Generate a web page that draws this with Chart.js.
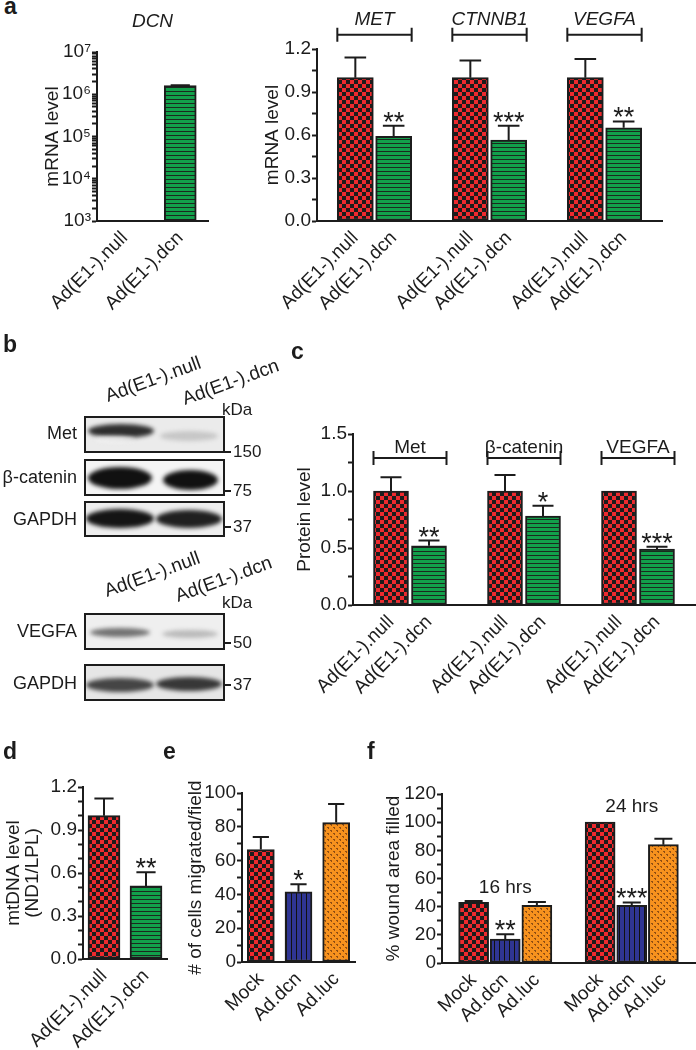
<!DOCTYPE html>
<html>
<head>
<meta charset="utf-8">
<script src="https://cdn.jsdelivr.net/npm/chart.js@4.4.1/dist/chart.umd.min.js"></script>
<style>
  body { margin: 0; background: #fff; }
  #fig { position: relative; width: 696px; height: 1050px; overflow: hidden;
         font-family: 'Liberation Sans', Arial, sans-serif; color: #1c1c1c; }
  #fig canvas { position: absolute; }
  .txt { position: absolute; white-space: nowrap; font-size: 18px; line-height: 18px; }
  .small { font-size: 17px; line-height: 17px; }
  .panel { position: absolute; font-weight: bold; font-size: 23px; line-height: 23px; }
  .lane { position: absolute; white-space: nowrap; font-size: 19px; line-height: 19px;
          transform-origin: 0 16px; transform: rotate(-20deg); }
</style>
</head>
<body>
<div id="fig">
  <canvas id="blots"></canvas>
  <canvas id="chartA1"></canvas>
  <canvas id="chartA2"></canvas>
  <canvas id="chartC"></canvas>
  <canvas id="chartD"></canvas>
  <canvas id="chartE"></canvas>
  <canvas id="chartF"></canvas>

  <div class="panel" style="left:4px;top:-5px">a</div>
  <div class="panel" style="left:3px;top:333px">b</div>
  <div class="panel" style="left:291px;top:340px">c</div>
  <div class="panel" style="left:3px;top:740px">d</div>
  <div class="panel" style="left:163px;top:740px">e</div>
  <div class="panel" style="left:367px;top:740px">f</div>

  <div class="lane" style="left:108px;top:386px">Ad(E1-).null</div>
  <div class="lane" style="left:185px;top:389px">Ad(E1-).dcn</div>
  <div class="lane" style="left:107px;top:581px">Ad(E1-).null</div>
  <div class="lane" style="left:178px;top:586px">Ad(E1-).dcn</div>

  <div class="txt" style="right:619px;top:424px">Met</div>
  <div class="txt" style="right:619px;top:468px">β-catenin</div>
  <div class="txt" style="right:619px;top:510px">GAPDH</div>
  <div class="txt" style="right:619px;top:622px">VEGFA</div>
  <div class="txt" style="right:619px;top:674px">GAPDH</div>

  <div class="txt small" style="left:222px;top:401px">kDa</div>
  <div class="txt small" style="left:233px;top:443px">150</div>
  <div class="txt small" style="left:233px;top:482px">75</div>
  <div class="txt small" style="left:233px;top:518px">37</div>
  <div class="txt small" style="left:222px;top:594px">kDa</div>
  <div class="txt small" style="left:233px;top:634px">50</div>
  <div class="txt small" style="left:233px;top:676px">37</div>
</div>

<script>
// ---- data ----
const dcnLabels = ['Ad(E1-).null', 'Ad(E1-).dcn'];
const dcnMrna = [1, 1.6e6];
const dcnMrnaSem = [null, 0.04e6];

const mrnaGenes = ['MET', 'CTNNB1', 'VEGFA'];
const mrnaLabels = ['', 'Ad(E1-).null', 'Ad(E1-).dcn', '', 'Ad(E1-).null', 'Ad(E1-).dcn', '', 'Ad(E1-).null', 'Ad(E1-).dcn', ''];
const mrnaValues = [null, 1.0, 0.59, null, 1.0, 0.565, null, 1.0, 0.65, null];
const mrnaSem = [null, 0.14, 0.075, null, 0.12, 0.10, null, 0.13, 0.045, null];
const mrnaStars = ['', '', '**', '', '', '***', '', '', '**', ''];

const proteinNames = ['Met', 'β-catenin', 'VEGFA'];
const proteinLabels = ['', 'Ad(E1-).null', 'Ad(E1-).dcn', '', 'Ad(E1-).null', 'Ad(E1-).dcn', '', 'Ad(E1-).null', 'Ad(E1-).dcn', ''];
const proteinValues = [null, 1.0, 0.52, null, 1.0, 0.78, null, 1.0, 0.49, null];
const proteinSem = [null, 0.12, 0.045, null, 0.14, 0.09, null, 0, 0.02, null];
const proteinStars = ['', '', '**', '', '', '*', '', '', '***', ''];

const mtdnaLabels = ['Ad(E1-).null', 'Ad(E1-).dcn'];
const mtdnaValues = [1.0, 0.51];
const mtdnaSem = [0.12, 0.095];
const mtdnaStars = ['', '**'];

const migrationLabels = ['Mock', 'Ad.dcn', 'Ad.luc'];
const migrationValues = [66.5, 41.5, 82.5];
const migrationSem = [7.5, 4.5, 11];
const migrationStars = ['', '*', ''];

const woundTimes = ['16 hrs', '24 hrs'];
const woundTimeAt = [50, 107];
const woundLabels = ['', 'Mock', 'Ad.dcn', 'Ad.luc', '', 'Mock', 'Ad.dcn', 'Ad.luc', ''];
const woundValues = [null, 43, 17, 41, null, 100, 41, 84, null];
const woundSem = [null, 1, 3.5, 2.4, null, 0, 2, 4.2, null];
const woundStars = ['', '', '**', '', '', '', '***', '', ''];

// ---- look ----
const INK = '#1c1c1c';
const RED = '#ee2a2e';
const GREEN = '#12a04b';
const BLUE = '#2f3593';
const ORANGE = '#f7921e';
const FONT = "'Liberation Sans', Arial, sans-serif";
const TXT = 19;
Chart.defaults.font.family = FONT;
Chart.defaults.color = INK;

function makeTile(w, h, draw) {
    const c = document.createElement('canvas');
    c.width = w; c.height = h;
    draw(c.getContext('2d'));
    return c;
}
const tileCtx = document.createElement('canvas').getContext('2d');
const patterns = {
    red: tileCtx.createPattern(makeTile(8, 8, g => {
        g.fillStyle = RED; g.fillRect(0, 0, 8, 8);
        g.fillStyle = INK; g.fillRect(0, 0, 4, 4); g.fillRect(4, 4, 4, 4);
    }), 'repeat'),
    green: tileCtx.createPattern(makeTile(4, 4, g => {
        g.fillStyle = GREEN; g.fillRect(0, 0, 4, 4);
        g.fillStyle = '#1b2a1f'; g.fillRect(0, 3, 4, 1);
    }), 'repeat'),
    blue: tileCtx.createPattern(makeTile(5, 4, g => {
        g.fillStyle = BLUE; g.fillRect(0, 0, 5, 4);
        g.fillStyle = '#111'; g.fillRect(4, 0, 1, 4);
    }), 'repeat'),
    orange: tileCtx.createPattern(makeTile(6, 6, g => {
        g.fillStyle = ORANGE; g.fillRect(0, 0, 6, 6);
        g.fillStyle = 'rgba(110,55,15,0.75)';
        g.fillRect(1, 1, 2, 1); g.fillRect(2, 2, 1, 1);
        g.fillRect(4, 4, 2, 1); g.fillRect(5, 5, 1, 1);
    }), 'repeat')
};
function fillFor(label) {
    if (/null$|^Mock$/.test(label)) return patterns.red;
    if (label === 'Ad.dcn') return patterns.blue;
    if (label === 'Ad.luc') return patterns.orange;
    return patterns.green;
}

// consecutive non-empty labels form one group
function groupSpans(labels) {
    const spans = [];
    let start = null;
    labels.forEach((l, i) => {
        if (l && start === null) start = i;
        if ((!l || i === labels.length - 1) && start !== null) {
            spans.push([start, l ? i : i - 1]);
            start = null;
        }
    });
    return spans;
}

const annotate = {
    id: 'annotate',
    afterDatasetsDraw(chart, args, o) {
        const { ctx, chartArea } = chart;
        const y = chart.scales.y;
        const bars = chart.getDatasetMeta(0).data;
        const vals = chart.data.datasets[0].data;
        const sem = o.sem || [];
        ctx.save();
        ctx.strokeStyle = INK;
        ctx.fillStyle = INK;
        ctx.lineWidth = 2;
        bars.forEach((bar, i) => {
            if (vals[i] == null || !sem[i]) return;
            const top = y.getPixelForValue(vals[i] + sem[i]);
            const half = bar.width * 0.3;
            ctx.beginPath();
            ctx.moveTo(bar.x, bar.y);
            ctx.lineTo(bar.x, top);
            ctx.moveTo(bar.x - half, top);
            ctx.lineTo(bar.x + half, top);
            ctx.stroke();
        });
        ctx.textAlign = 'center';
        ctx.textBaseline = 'alphabetic';
        ctx.font = '27px ' + FONT;
        (o.stars || []).forEach((s, i) => {
            if (!s) return;
            const top = y.getPixelForValue(vals[i] + (sem[i] || 0));
            ctx.fillText(s, bars[i].x, top + 5);
        });
        if (o.groups) {
            ctx.font = o.groupFont;
            groupSpans(chart.data.labels).forEach((sp, g) => {
                const a = bars[sp[0]], b = bars[sp[1]];
                const x0 = a.x - a.width / 2, x1 = b.x + b.width / 2;
                if (o.bracketAt != null) {
                    const by = y.getPixelForValue(o.bracketAt);
                    ctx.beginPath();
                    ctx.moveTo(x0, by); ctx.lineTo(x1, by);
                    ctx.moveTo(x0, by - 7); ctx.lineTo(x0, by + 7);
                    ctx.moveTo(x1, by - 7); ctx.lineTo(x1, by + 7);
                    ctx.stroke();
                }
                const at = Array.isArray(o.groupAt) ? o.groupAt[g] : o.groupAt;
                ctx.fillText(o.groups[g], (x0 + x1) / 2, y.getPixelForValue(at));
            });
        }
        if (o.title) {
            ctx.font = o.titleFont;
            ctx.fillText(o.title, (chartArea.left + chartArea.right) / 2, chartArea.top - o.titleGap);
        }
        ctx.restore();
    }
};

function linearTicks(every, decimals) {
    return (v, i) => (i % every === 0 ? v.toFixed(decimals) : '');
}

function barChart(id, box, area, cfg) {
    const canvas = document.getElementById(id);
    canvas.width = box.w;
    canvas.height = box.h;
    Object.assign(canvas.style, {
        left: box.x + 'px', top: box.y + 'px', width: box.w + 'px', height: box.h + 'px'
    });
    const yWidth = area.left - box.x;
    const xHeight = box.y + box.h - area.bottom;
    const titleFont = { size: TXT, lineHeight: cfg.titleLine || 1.2 };
    const lh = TXT * titleFont.lineHeight;
    return new Chart(canvas.getContext('2d'), {
        type: 'bar',
        data: {
            labels: cfg.labels,
            datasets: [{
                data: cfg.values,
                backgroundColor: c => fillFor(cfg.labels[c.dataIndex]),
                borderColor: INK,
                borderWidth: 2,
                borderSkipped: false,
                barThickness: cfg.barThickness,
                clip: 0
            }]
        },
        options: {
            responsive: false,
            animation: false,
            devicePixelRatio: 1,
            layout: { padding: { left: 0, bottom: 0, top: area.top - box.y, right: box.x + box.w - area.right } },
            plugins: {
                legend: { display: false },
                tooltip: { enabled: false },
                annotate: cfg.annotate
            },
            scales: {
                x: {
                    offset: cfg.offset,
                    grid: { display: false, drawTicks: false },
                    border: { color: INK, width: 2 },
                    ticks: { font: { size: TXT }, color: INK, minRotation: 45, maxRotation: 45, autoSkip: false, padding: 6 },
                    afterFit: s => { s.height = xHeight; }
                },
                y: Object.assign({
                    min: cfg.min,
                    max: cfg.max,
                    border: { color: INK, width: 2 },
                    grid: { drawOnChartArea: false, tickLength: 5, tickColor: INK, tickWidth: 2 },
                    ticks: Object.assign({ font: { size: TXT }, color: INK, padding: 1, autoSkip: false }, cfg.ticks),
                    title: {
                        display: true, text: cfg.title, color: INK, font: titleFont,
                        padding: { top: cfg.titleX - box.x - lh / 2, bottom: 0 }
                    },
                    afterFit: s => { s.width = yWidth; }
                }, cfg.yExtra || {})
            }
        },
        plugins: [annotate]
    });
}

const SUP = { 3: '³', 4: '⁴', 5: '⁵', 6: '⁶', 7: '⁷' };

// a: DCN (log)
barChart('chartA1', { x: 30, y: 0, w: 205, h: 330 }, { left: 97, top: 52, right: 208, bottom: 221 }, {
    labels: dcnLabels, values: dcnMrna, offset: true, barThickness: 32,
    min: 1e3, max: 1e7, title: 'mRNA level', titleX: 53,
    yExtra: {
        type: 'logarithmic',
        afterBuildTicks: s => {
            const t = [];
            for (let e = 3; e < 7; e++) for (let m = 1; m < 10; m++) t.push({ value: m * Math.pow(10, e) });
            t.push({ value: 1e7 });
            s.ticks = t;
        }
    },
    ticks: {
        font: { size: 19 },
        callback: v => {
            const l = Math.log10(v);
            return Math.abs(l - Math.round(l)) < 1e-9 ? '10' + SUP[Math.round(l)] : '';
        }
    },
    annotate: { sem: dcnMrnaSem, title: 'DCN', titleFont: 'italic 19px ' + FONT, titleGap: 25 }
});

// a: MET / CTNNB1 / VEGFA
barChart('chartA2', { x: 250, y: 0, w: 446, h: 330 }, { left: 317, top: 49, right: 662, bottom: 221 }, {
    labels: mrnaLabels, values: mrnaValues, offset: false, barThickness: 36,
    min: 0, max: 1.2, title: 'mRNA level', titleX: 273,
    ticks: { stepSize: 0.15, callback: linearTicks(2, 1) },
    annotate: {
        sem: mrnaSem, stars: mrnaStars, groups: mrnaGenes, groupFont: 'italic 19px ' + FONT,
        bracketAt: 1.3, groupAt: 1.37
    }
});

// c: protein (canvas runs past the page edge so the axis reaches it)
barChart('chartC', { x: 288, y: 400, w: 440, h: 330 }, { left: 353, top: 434, right: 695, bottom: 605 }, {
    labels: proteinLabels, values: proteinValues, offset: false, barThickness: 35,
    min: 0, max: 1.5, title: 'Protein level', titleX: 305,
    ticks: { stepSize: 0.25, callback: linearTicks(2, 1) },
    annotate: {
        sem: proteinSem, stars: proteinStars, groups: proteinNames, groupFont: '19px ' + FONT,
        bracketAt: 1.29, groupAt: 1.335
    }
});

// d: mtDNA
barChart('chartD', { x: 0, y: 760, w: 192, h: 290 }, { left: 83, top: 787, right: 167, bottom: 959 }, {
    labels: mtdnaLabels, values: mtdnaValues, offset: true, barThickness: 32,
    min: 0, max: 1.2, title: ['mtDNA level', '(ND1/LPL)'], titleX: 14, titleLine: 1.0,
    ticks: { stepSize: 0.1, callback: linearTicks(3, 1) },
    annotate: { sem: mtdnaSem, stars: mtdnaStars }
});

// e: migration
barChart('chartE', { x: 182, y: 760, w: 200, h: 290 }, { left: 242, top: 793, right: 355, bottom: 962 }, {
    labels: migrationLabels, values: migrationValues, offset: true, barThickness: 27,
    min: 0, max: 100, title: '# of cells migrated/field', titleX: 196,
    ticks: { stepSize: 10, callback: linearTicks(2, 0) },
    annotate: { sem: migrationSem, stars: migrationStars }
});

// f: wound healing
barChart('chartF', { x: 380, y: 760, w: 345, h: 290 }, { left: 442, top: 794, right: 695, bottom: 963 }, {
    labels: woundLabels, values: woundValues, offset: false, barThickness: 30,
    min: 0, max: 120, title: '% wound area filled', titleX: 394,
    ticks: { stepSize: 10, callback: linearTicks(2, 0) },
    annotate: { sem: woundSem, stars: woundStars, groups: woundTimes, groupFont: '19px ' + FONT, groupAt: woundTimeAt }
});

// b: western blots (picture only)
function drawBlots() {
    const cv = document.getElementById('blots');
    cv.width = 300; cv.height = 390;
    Object.assign(cv.style, { left: '0px', top: '330px', width: '300px', height: '390px' });
    const g = cv.getContext('2d');
    g.translate(0, -330);
    const blots = [
        { y0: 417, y1: 452, bg: '#ebebeb', bands: [
            { x: 88, y: 424, w: 66, h: 14, c: 'rgba(25,25,25,0.9)' },
            { x: 95, y: 436, w: 40, h: 6, c: 'rgba(245,245,245,0.9)' },
            { x: 160, y: 431, w: 58, h: 10, c: 'rgba(90,90,90,0.25)' }] },
        { y0: 460, y1: 495, bg: '#f5f5f5', bands: [
            { x: 88, y: 467, w: 64, h: 22, c: '#111' },
            { x: 163, y: 470, w: 55, h: 20, c: '#111' }] },
        { y0: 502, y1: 536, bg: '#eeeeee', bands: [
            { x: 86, y: 509, w: 68, h: 19, c: '#151515' },
            { x: 156, y: 510, w: 66, h: 18, c: '#202020' }] },
        { y0: 614, y1: 649, bg: '#efefef', bands: [
            { x: 90, y: 628, w: 60, h: 9, c: 'rgba(60,60,60,0.7)' },
            { x: 162, y: 630, w: 56, h: 8, c: 'rgba(90,90,90,0.35)' }] },
        { y0: 665, y1: 700, bg: '#e6e6e6', bands: [
            { x: 86, y: 678, w: 68, h: 14, c: 'rgba(40,40,40,0.85)' },
            { x: 156, y: 677, w: 66, h: 14, c: 'rgba(35,35,35,0.9)' }] }
    ];
    blots.forEach(b => {
        g.save();
        g.beginPath();
        g.rect(85, b.y0, 139, b.y1 - b.y0);
        g.clip();
        g.fillStyle = b.bg;
        g.fill();
        g.filter = 'blur(2px)';
        b.bands.forEach(band => {
            g.fillStyle = band.c;
            g.beginPath();
            g.ellipse(band.x + band.w / 2, band.y + band.h / 2, band.w / 2, band.h / 2, 0, 0, Math.PI * 2);
            g.fill();
        });
        g.restore();
        g.lineWidth = 2;
        g.strokeStyle = INK;
        g.strokeRect(85, b.y0, 139, b.y1 - b.y0);
    });
    g.beginPath();
    [452, 491, 527, 643, 685].forEach(yy => { g.moveTo(224, yy); g.lineTo(231, yy); });
    g.stroke();
}
drawBlots();
</script>
</body>
</html>
